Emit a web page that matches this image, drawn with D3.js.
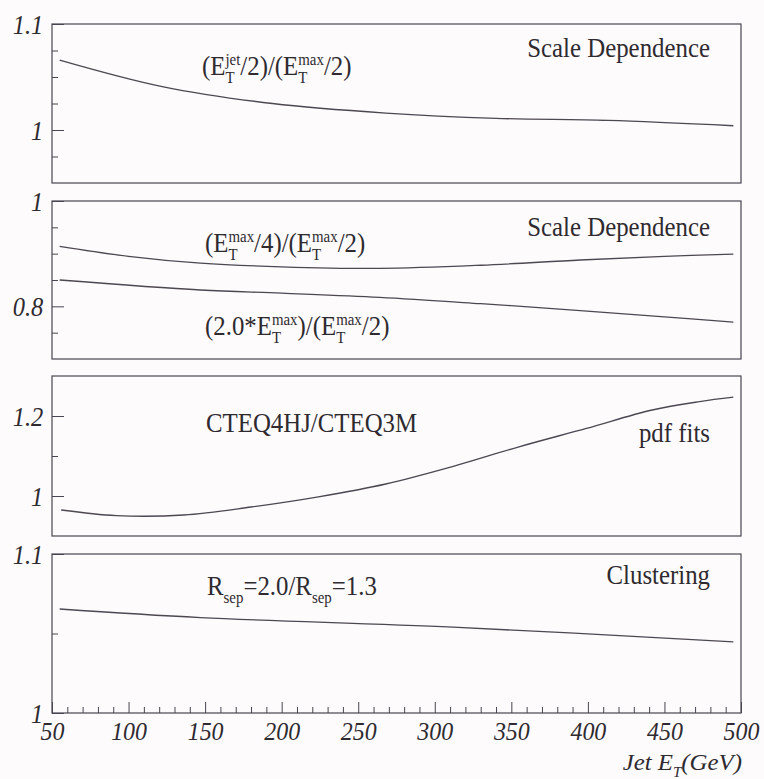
<!DOCTYPE html>
<html>
<head>
<meta charset="utf-8">
<script src="https://cdn.jsdelivr.net/npm/d3@7"></script>
<style>
  html, body { margin: 0; background: #fdfbfb; }
</style>
</head>
<body>
<svg id="chart" width="764" height="779"></svg>
<script>
// ---- data: jet E_T (GeV) and cross-section ratios ----
const xTicksMajor = [50, 100, 150, 200, 250, 300, 350, 400, 450, 500];

// panel 1: (E_T^jet/2)/(E_T^max/2)
const jetScaleEt    = [55, 122, 194, 268, 340, 413, 495];
const jetScaleRatio = [1.066, 1.041, 1.025, 1.016, 1.011, 1.009, 1.004];

// panel 2: (E_T^max/4)/(E_T^max/2) and (2.0*E_T^max)/(E_T^max/2)
const quarterEt    = [55, 100, 147, 200, 264, 330, 395, 450, 495];
const quarterRatio = [0.914, 0.895, 0.882, 0.875, 0.872, 0.878, 0.888, 0.895, 0.899];
const doubleEt     = [55, 147, 200, 264, 330, 395, 450, 495];
const doubleRatio  = [0.850, 0.831, 0.825, 0.817, 0.805, 0.792, 0.780, 0.770];

// panel 3: CTEQ4HJ/CTEQ3M
const pdfEt    = [56, 92, 136, 180, 224, 268, 311, 355, 399, 442, 473, 495];
const pdfRatio = [0.965, 0.951, 0.9525, 0.9725, 0.998, 1.03, 1.073, 1.123, 1.169, 1.215, 1.236, 1.247];

// panel 4: Rsep=2.0 / Rsep=1.3
const rsepEt    = [55, 147, 312, 495];
const rsepRatio = [1.0654, 1.060, 1.054, 1.0447];

// y axis ticks per panel
const p1Major = [1.1, 1],   p1Minor = [1.075, 1.05, 1.025, 0.975];
const p2Major = [1, 0.8],   p2Minor = [0.95, 0.9, 0.85, 0.75];
const p3Major = [1.2, 1],   p3Minor = [1.1];
const p4Major = [1.1, 1],   p4Minor = [1.05];

// ---- layout ----
const svg = d3.select("#chart");
const SERIF = "Liberation Serif";
const SX = 0.92;            // horizontal squeeze of the serif lettering
const ink = "#4a4550";
const textInk = "#2e2a30";
const x = d3.scaleLinear().domain([50, 500]).range([52, 741]);

const panels = [
  { top: 24,  bottom: 183, domain: [0.95, 1.1], major: p1Major, minor: p1Minor },
  { top: 201, bottom: 359, domain: [0.7, 1.0],  major: p2Major, minor: p2Minor },
  { top: 376, bottom: 536, domain: [0.9, 1.3],  major: p3Major, minor: p3Minor },
  { top: 554, bottom: 713, domain: [1.0, 1.1],  major: p4Major, minor: p4Minor }
];
panels.forEach(p => { p.y = d3.scaleLinear().domain(p.domain).range([p.bottom, p.top]); });

const fmt = d => String(+d.toFixed(3));

panels.forEach(p => {
  const g = svg.append("g");
  // minor ticks
  g.append("g")
    .attr("transform", `translate(${x.range()[0]},0)`)
    .call(d3.axisLeft(p.y).tickValues(p.minor).tickSize(-6).tickFormat(""))
    .call(a => a.select(".domain").remove())
    .call(a => a.selectAll("line").attr("stroke", ink).attr("stroke-width", 1));
  // major ticks + labels
  g.append("g")
    .attr("transform", `translate(${x.range()[0]},0)`)
    .call(d3.axisLeft(p.y).tickValues(p.major).tickSize(-12).tickPadding(10).tickFormat(fmt))
    .attr("font-family", SERIF)
    .attr("font-size", 28)
    .call(a => a.select(".domain").remove())
    .call(a => a.selectAll("line").attr("stroke", ink).attr("stroke-width", 1))
    .call(a => a.selectAll("text")
      .attr("font-family", SERIF)
      .attr("font-style", "italic")
      .attr("font-size", 28)
      .attr("dy", "0.34em")
      .attr("fill", textInk)
      .attr("transform", `scale(${SX * 0.95},1)`));
  // frame
  g.append("rect")
    .attr("x", x.range()[0]).attr("y", p.top)
    .attr("width", x.range()[1] - x.range()[0]).attr("height", p.bottom - p.top)
    .attr("fill", "none").attr("stroke", ink).attr("stroke-width", 1.2);
});

// x axis on the bottom panel, ticks pointing inward
const bottomY = panels[3].bottom;
const xMinor = d3.range(50, 501, 10).filter(v => v % 50 !== 0);
svg.append("g")
  .attr("transform", `translate(0,${bottomY})`)
  .call(d3.axisBottom(x).tickValues(xMinor).tickSize(-6).tickFormat(""))
  .call(a => a.select(".domain").remove())
  .call(a => a.selectAll("line").attr("stroke", ink));
svg.append("g")
  .attr("transform", `translate(0,${bottomY})`)
  .call(d3.axisBottom(x).tickValues(xTicksMajor).tickSize(-11).tickPadding(9).tickFormat(d => String(d)))
  .attr("font-family", SERIF)
  .attr("font-size", 26)
  .call(a => a.select(".domain").remove())
  .call(a => a.selectAll("line").attr("stroke", ink))
  .call(a => a.selectAll("text")
    .attr("font-family", SERIF)
    .attr("font-style", "italic")
    .attr("font-size", 26)
    .attr("fill", textInk)
    .attr("transform", `scale(${SX},1)`));

// curves
function curve(p, xs, ys) {
  const pts = xs.map((v, i) => [v, ys[i]]);
  svg.append("path")
    .datum(pts)
    .attr("fill", "none")
    .attr("stroke", "#4d4752")
    .attr("stroke-width", 1.3)
    .attr("d", d3.line().x(d => x(d[0])).y(d => p.y(d[1])).curve(d3.curveCatmullRom.alpha(0.5)));
}
curve(panels[0], jetScaleEt, jetScaleRatio);
curve(panels[1], quarterEt, quarterRatio);
curve(panels[1], doubleEt, doubleRatio);
curve(panels[2], pdfEt, pdfRatio);
curve(panels[3], rsepEt, rsepRatio);

// text with stacked sub/superscripts, laid out piece by piece
function rich(px, py, parts, size, opts = {}) {
  const g = svg.append("g");
  const inner = g.append("g");
  let cx = 0;
  const small = size * 0.6;
  const sx = opts.sx || SX;
  const style = opts.italic ? "italic" : "normal";
  const put = (tx, ty, fsz, str) => inner.append("text")
    .attr("x", tx).attr("y", ty).attr("fill", textInk)
    .attr("font-family", SERIF).attr("font-size", fsz).attr("font-style", style)
    .text(str);
  parts.forEach(part => {
    if (part.t !== undefined) {
      cx += put(cx, 0, size, part.t).node().getComputedTextLength();
    } else {
      let w = 0;
      if (part.sub) w = Math.max(w, put(cx, size * 0.3, small, part.sub).node().getComputedTextLength());
      if (part.sup) w = Math.max(w, put(cx, -size * 0.38, small, part.sup).node().getComputedTextLength());
      cx += w;
    }
  });
  const shift = opts.right ? -cx * sx : 0;
  g.attr("transform", `translate(${px + shift},${py}) scale(${sx},1)`);
}

const fs = 27;
rich(710, 57,  [{ t: "Scale Dependence" }], fs, { right: true });
rich(202, 75,  [{ t: "(E" }, { sub: "T", sup: "jet" }, { t: "/2)/(E" }, { sub: "T", sup: "max" }, { t: "/2)" }], fs);
rich(710, 236, [{ t: "Scale Dependence" }], fs, { right: true });
rich(205, 252, [{ t: "(E" }, { sub: "T", sup: "max" }, { t: "/4)/(E" }, { sub: "T", sup: "max" }, { t: "/2)" }], fs);
rich(205, 335, [{ t: "(2.0*E" }, { sub: "T", sup: "max" }, { t: ")/(E" }, { sub: "T", sup: "max" }, { t: "/2)" }], fs);
rich(206, 432, [{ t: "CTEQ4HJ/CTEQ3M" }], fs);
rich(710, 442, [{ t: "pdf fits" }], fs, { right: true });
rich(710, 584, [{ t: "Clustering" }], fs, { right: true });
rich(207, 595, [{ t: "R" }, { sub: "sep" }, { t: "=2.0/R" }, { sub: "sep" }, { t: "=1.3" }], fs);
rich(742, 770, [{ t: "Jet E" }, { sub: "T" }, { t: " (GeV)" }], 23, { right: true, italic: true, sx: 1.08 });
</script>
</body>
</html>
